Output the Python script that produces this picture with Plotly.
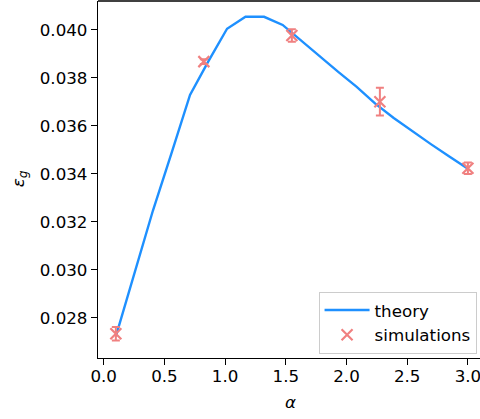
import plotly.graph_objects as go

# ---- data ----
alpha_theory = [0.1, 0.253, 0.405, 0.558, 0.711, 0.863, 1.016, 1.168, 1.321, 1.474,
                1.626, 1.779, 1.932, 2.084, 2.237, 2.389, 2.542, 2.695, 2.847, 3.0]
eps_theory = [0.02722, 0.02983, 0.03246, 0.03485, 0.03729, 0.03870, 0.04005, 0.04055,
              0.04055, 0.04021, 0.03955, 0.03890, 0.03825, 0.03763, 0.03693, 0.03633,
              0.03577, 0.03524, 0.03472, 0.03421]

alpha_sim = [0.1, 0.825, 1.55, 2.275, 3.0]
eps_sim = [0.02733, 0.03868, 0.03977, 0.03701, 0.03423]
err_sim = [0.00028, 0.00010, 0.00026, 0.00058, 0.00024]

x_ticks = [0.0, 0.5, 1.0, 1.5, 2.0, 2.5, 3.0]
y_ticks = [0.028, 0.030, 0.032, 0.034, 0.036, 0.038, 0.040]

FONT = "DejaVu Sans"
FS = 16.7
COL_TH = "#1E90FF"
COL_SIM = "#F08080"

fig = go.Figure()
fig.add_trace(go.Scatter(
    x=alpha_theory, y=eps_theory, mode="lines", name="theory",
    line=dict(color=COL_TH, width=2.4),
))
fig.add_trace(go.Scatter(
    x=alpha_sim, y=eps_sim, mode="markers", name="simulations",
    marker=dict(symbol="x-thin", size=11, color=COL_SIM,
                line=dict(color=COL_SIM, width=2.2)),
    error_y=dict(type="data", array=err_sim, visible=True,
                 color=COL_SIM, thickness=2, width=4),
))

axis_common = dict(
    showline=True, linecolor="black", linewidth=1.3,
    ticks="outside", ticklen=6, tickwidth=1.3, tickcolor="black",
    showgrid=False, zeroline=False, automargin=False,
    ticklabeloverflow="allow",
    tickfont=dict(family=FONT, size=FS, color="black"),
)

fig.update_layout(
    width=480, height=419,
    margin=dict(l=98, r=0, t=1, b=61, autoexpand=False),
    paper_bgcolor="white", plot_bgcolor="white",
    showlegend=True,
    legend=dict(
        x=0.991, y=0.012, xanchor="right", yanchor="bottom",
        bgcolor="rgba(255,255,255,0.8)", bordercolor="#cccccc", borderwidth=1,
        font=dict(family=FONT, size=FS, color="black"),
        tracegroupgap=0, itemwidth=45,
    ),
    xaxis=dict(range=[-0.047, 3.0997], tickvals=x_ticks,
               ticktext=[f"{v:.1f}" for v in x_ticks], mirror=False,
               ticklabelstandoff=-3,
               **axis_common),
    yaxis=dict(range=[0.026321, 0.041208], tickvals=y_ticks,
               ticktext=[f"{v:.3f}" for v in y_ticks],
               **axis_common),
    shapes=[dict(type="line", xref="paper", yref="paper", x0=0, x1=1, y0=1, y1=1,
                 line=dict(color="black", width=1.3))],
    annotations=[
        dict(text="<i>α</i>", xref="paper", yref="paper", x=0.505, y=-0.1224,
             xanchor="center", yanchor="middle", showarrow=False,
             font=dict(family=FONT, size=FS, color="black")),
        dict(text="<i>ε<sub>g</sub></i>", xref="paper", yref="paper", x=-0.2068, y=0.501,
             xanchor="center", yanchor="middle", showarrow=False, textangle=-90,
             font=dict(family=FONT, size=FS, color="black")),
    ],
)

fig.write_html("out.html", config={"displayModeBar": False},
               post_script="document.body.style.margin='0';document.body.style.padding='0';")
